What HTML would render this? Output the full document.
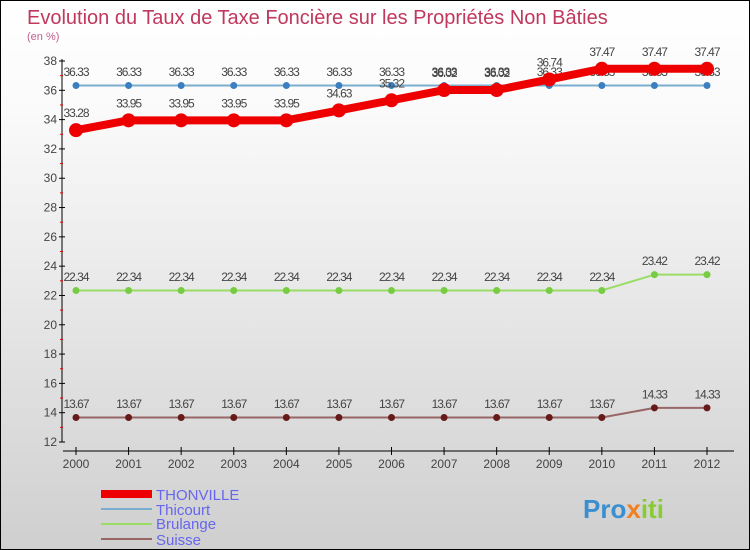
<!DOCTYPE html>
<html><head><meta charset="utf-8"><style>
body{margin:0}
#c{width:750px;height:550px;position:relative;box-sizing:border-box;border:1px solid #000;background:linear-gradient(#fff,#fafafa 20%,#cfcfcf);font-family:"Liberation Sans",sans-serif;overflow:hidden}
</style></head><body>
<div id="c">
<svg id="s" width="750" height="550" style="position:absolute;left:0;top:0">
<text x="26" y="23" font-size="20" fill="#c0385e">Evolution du Taux de Taxe Foncière sur les Propriétés Non Bâties</text>
<text x="26" y="39" font-size="11" fill="#c0608e">(en %)</text>
<g id="axes"></g><g id="series"></g>
<g>
<rect x="100" y="489" width="51" height="8" fill="#e00"/>
<text x="155" y="499" font-size="15" fill="#6666ee">THONVILLE</text>
<line x1="100" y1="508" x2="151" y2="508" stroke="#7aaed0" stroke-width="2"/>
<text x="155" y="514" font-size="15" fill="#6666ee">Thicourt</text>
<line x1="100" y1="523" x2="151" y2="523" stroke="#99dd66" stroke-width="2"/>
<text x="155" y="528" font-size="15" fill="#6666ee">Brulange</text>
<line x1="100" y1="538" x2="151" y2="538" stroke="#996666" stroke-width="2"/>
<text x="155" y="544" font-size="15" fill="#6666ee">Suisse</text>
</g>
<text x="582" y="517" font-size="26" font-weight="bold" fill="#3a8fd0">Pro<tspan fill="#f08020">x</tspan><tspan fill="#88cc33">iti</tspan></text>
</svg>
</div>
<script>
const years=[2000,2001,2002,2003,2004,2005,2006,2007,2008,2009,2010,2011,2012];
const thonville=[33.28,33.95,33.95,33.95,33.95,34.63,35.32,36.02,36.02,36.74,37.47,37.47,37.47];
const thicourt=[36.33,36.33,36.33,36.33,36.33,36.33,36.33,36.33,36.33,36.33,36.33,36.33,36.33];
const brulange=[22.34,22.34,22.34,22.34,22.34,22.34,22.34,22.34,22.34,22.34,22.34,23.42,23.42];
const suisse=[13.67,13.67,13.67,13.67,13.67,13.67,13.67,13.67,13.67,13.67,13.67,14.33,14.33];
const yTicks=[12,14,16,18,20,22,24,26,28,30,32,34,36,38];
const NS="http://www.w3.org/2000/svg";
const X=i=>75+i*(706-75)/(years.length-1);
const Y=v=>441-(v-12)*(441-60)/26;
function mk(t,a,p){const e=document.createElementNS(NS,t);for(const k in a)e.setAttribute(k,a[k]);p.appendChild(e);return e;}
const ax=document.getElementById('axes');
let l=mk('line',{x1:61,y1:58,x2:61,y2:441,stroke:'#000'},ax);


l=mk('line',{x1:62,y1:450,x2:733,y2:450,stroke:'#000'},ax);


yTicks.forEach((v,i)=>{
 mk('line',{x1:58,y1:Y(v),x2:64,y2:Y(v),stroke:'#000'},ax);
 if(i<yTicks.length-1)mk('line',{x1:59,y1:Y(v+1),x2:62,y2:Y(v+1),stroke:'#e00'},ax);
 const t=mk('text',{x:56,y:Y(v)+4,'font-size':12,fill:'#444','text-anchor':'end'},ax);t.textContent=v;
 
 
});
years.forEach((y,i)=>{
 mk('line',{x1:X(i),y1:446,x2:X(i),y2:454,stroke:'#000'},ax);
 const t=mk('text',{x:X(i),y:467,'font-size':12,fill:'#444','text-anchor':'middle'},ax);t.textContent=y;
 
 
});
const sg=document.getElementById('series');
function series(name,data,col,w,dot,dc){
 const g=mk('g',{},sg);
 
 
 mk('polyline',{points:data.map((v,i)=>X(i)+','+Y(v)).join(' '),fill:'none',stroke:col,'stroke-width':w,'stroke-linejoin':'round'},g);
 data.forEach((v,i)=>{
  const c=mk('circle',{cx:X(i),cy:Y(v),r:dot,fill:dc},g);
  
  
  const t=mk('text',{x:X(i),y:Y(v)-(dot+6),'font-size':12,fill:'#444','text-anchor':'middle','letter-spacing':'-1'},g);t.textContent=v.toFixed(2);
  
  
 });
}
series('suisse',suisse,'#996666',2,3.5,'#661a1a');
series('brulange',brulange,'#99dd66',2,3.5,'#77cc44');
series('thicourt',thicourt,'#7aaed0',2,3.5,'#3a80c0');
series('thonville',thonville,'#e00',8,7,'#e00');
</script>
</body></html>
